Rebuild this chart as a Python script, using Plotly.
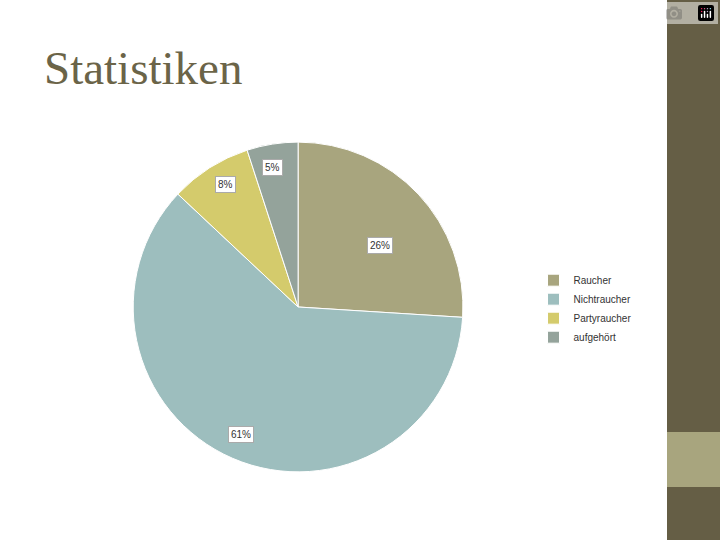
import plotly.graph_objects as go

labels = ['Raucher', 'Nichtraucher', 'Partyraucher', 'aufgehört']
values = [26, 61, 8, 5]
colors = ['#A8A57E', '#9DBEBE', '#D4CB6C', '#94A39B']

fig = go.Figure()
fig.add_trace(go.Pie(
    labels=labels, values=values, sort=False, direction='clockwise', rotation=0,
    marker=dict(colors=colors, line=dict(color='white', width=1)),
    textinfo='none', hoverinfo='label+percent',
    domain=dict(x=[0.185, 0.643], y=[0.126, 0.737]),
))

# data labels, placed like the original slide
label_pos = [(0.528, 0.545), (0.335, 0.18), (0.298, 0.658), (0.379, 0.705)]
for v, (x, y) in zip(values, label_pos):
    fig.add_annotation(x=x, y=y, xref='paper', yref='paper', text=f'{v}%', showarrow=False,
                       font=dict(size=10, color='#333', family='Liberation Sans'),
                       bgcolor='white', bordercolor='#aaa', borderwidth=1, borderpad=2)

fig.add_annotation(x=42 / 720, y=1 - 68 / 540, xref='paper', yref='paper',
                   xanchor='left', yanchor='middle',
                   text='Statistiken', showarrow=False,
                   font=dict(size=47, color='#6B6448', family='Liberation Serif'))

# right decorative band
fig.add_shape(type='rect', xref='paper', yref='paper', x0=667 / 720, x1=1, y0=0, y1=1,
              fillcolor='#655E45', line_width=0, layer='below')
fig.add_shape(type='rect', xref='paper', yref='paper', x0=667 / 720, x1=1,
              y0=1 - 487 / 540, y1=1 - 432 / 540, fillcolor='#A8A57E', line_width=0, layer='below')

fig.update_layout(
    width=720, height=540, margin=dict(l=0, r=0, t=0, b=0),
    paper_bgcolor='white', plot_bgcolor='white',
    legend=dict(x=0.741, y=0.508, xanchor='left', yanchor='top',
                font=dict(size=10, color='#333', family='Liberation Sans'),
                itemwidth=30, tracegroupgap=4),
    showlegend=True,
)
fig.write_html('out.html', post_script="document.body.style.margin='0';document.body.style.overflow='hidden';")
